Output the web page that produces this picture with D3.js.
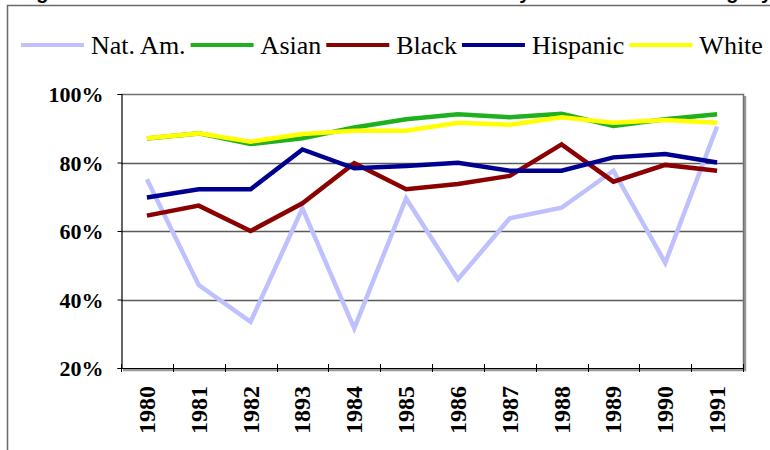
<!DOCTYPE html>
<html>
<head>
<meta charset="utf-8">
<script src="https://cdn.jsdelivr.net/npm/d3@7"></script>
<style>
  body { margin: 0; background: #fff; }
  svg { display: block; }
</style>
</head>
<body>
<svg id="chart"></svg>
<script>
// Chart data
var years = ["1980", "1981", "1982", "1893", "1984", "1985", "1986", "1987", "1988", "1989", "1990", "1991"];
var seriesNames = ["Nat. Am.", "Asian", "Black", "Hispanic", "White"];
var natAm    = [75.1, 44.2, 33.5, 66.6, 31.6, 69.5, 45.9, 63.7, 66.8, 77.6, 50.7, 90.5];
var asian    = [87.0, 88.5, 85.4, 87.1, 90.2, 92.6, 94.1, 93.2, 94.2, 90.7, 92.6, 94.1];
var black    = [64.5, 67.4, 60.0, 68.1, 79.8, 72.2, 73.7, 76.1, 85.3, 74.4, 79.3, 77.6];
var hispanic = [69.8, 72.2, 72.2, 83.8, 78.3, 79.0, 79.9, 77.6, 77.6, 81.5, 82.5, 80.0];
var white    = [87.1, 88.5, 86.1, 88.3, 89.3, 89.3, 91.6, 91.0, 93.2, 91.6, 92.4, 91.6];
var yTicks = [20, 40, 60, 80, 100];
var colors = ["#c0c0ff", "#1fb01f", "#8b0000", "#000090", "#ffff00"];

var series = [natAm, asian, black, hispanic, white].map(function(vals, i) {
  return {name: seriesNames[i], color: colors[i], values: vals};
});

var serif = "'Liberation Serif', 'Times New Roman', serif";

// SVG size params
var width = 770, height = 450;
var plot = {left: 121, top: 94, right: 743, bottom: 368};

var svg = d3.select("#chart")
    .attr("width", width)
    .attr("height", height);

// Title (mostly cut off above the frame, as in the original)
svg.append("text")
    .attr("x", 17)
    .attr("y", -1)
    .attr("textLength", 755)
    .attr("lengthAdjust", "spacing")
    .style("font-family", "'Liberation Sans', Arial, sans-serif")
    .style("font-weight", "bold")
    .style("font-size", "20px")
    .text("Figure 1: Graduation Rates of Student-Athletes by Racial/Ethnic Category");

// Outer frame
svg.append("path")
    .attr("d", "M7.5," + height + "V5.5H" + width)
    .attr("fill", "none")
    .attr("stroke", "#6a6a6a")
    .attr("stroke-width", 1.5);

// Scales
var x = d3.scaleBand()
    .domain(years)
    .range([plot.left, plot.right]);

var y = d3.scaleLinear()
    .domain([20, 100])
    .range([plot.bottom, plot.top]);

// Gridlines
svg.selectAll(".grid")
  .data(yTicks.filter(function(d) { return d > 20 && d < 100; }))
  .enter().append("line")
    .attr("class", "grid")
    .attr("x1", plot.left)
    .attr("x2", plot.right)
    .attr("y1", function(d) { return Math.round(y(d)) + 0.5; })
    .attr("y2", function(d) { return Math.round(y(d)) + 0.5; })
    .attr("stroke", "#5a5a5a")
    .attr("stroke-width", 1.3);

// Plot area border with shadow
svg.append("path")
    .attr("d", "M" + (plot.right + 2) + "," + (plot.top + 2) + "V" + (plot.bottom + 2) + "H" + (plot.left + 2))
    .attr("fill", "none")
    .attr("stroke", "#9a9a9a")
    .attr("stroke-width", 2.5);
svg.append("path")
    .attr("d", "M" + plot.left + "," + (plot.top + 0.5) + "H" + (plot.right + 0.5) + "V" + plot.bottom)
    .attr("fill", "none")
    .attr("stroke", "#707070")
    .attr("stroke-width", 1.5);

// Lines
var line = d3.line()
    .x(function(d, i) { return x(years[i]) + x.bandwidth() / 2; })
    .y(function(d) { return y(d); });

svg.selectAll(".series")
  .data(series)
  .enter().append("path")
    .attr("class", "series")
    .attr("d", function(d) { return line(d.values); })
    .attr("fill", "none")
    .attr("stroke", function(d) { return d.color; })
    .attr("stroke-width", 4.5)
    .attr("stroke-linejoin", "miter");

// Y axis
var yAxis = d3.axisLeft(y)
    .tickValues(yTicks)
    .tickSize(4)
    .tickPadding(14)
    .tickFormat(function(d) { return d + "%"; });

var gy = svg.append("g")
    .attr("transform", "translate(" + (plot.left + 0.5) + ",0)")
    .call(yAxis);
gy.select(".domain").attr("stroke", "#000").attr("stroke-width", 1.2);
gy.selectAll(".tick line").attr("stroke", "#000");
gy.selectAll(".tick text")
    .attr("fill", "#000")
    .attr("dy", "0.35em")
    .style("font-family", serif)
    .style("font-weight", "bold")
    .style("font-size", "22px");

// X axis: ticks on category boundaries
var gx = svg.append("g");
gx.append("line")
    .attr("x1", plot.left)
    .attr("x2", plot.right)
    .attr("y1", plot.bottom + 0.5)
    .attr("y2", plot.bottom + 0.5)
    .attr("stroke", "#000")
    .attr("stroke-width", 1.2);
gx.selectAll(".xtick")
  .data(years.concat(["end"]))
  .enter().append("line")
    .attr("class", "xtick")
    .attr("x1", function(d, i) { return Math.round(plot.left + i * x.step()) + 0.5; })
    .attr("x2", function(d, i) { return Math.round(plot.left + i * x.step()) + 0.5; })
    .attr("y1", plot.bottom - 4)
    .attr("y2", plot.bottom + 4)
    .attr("stroke", "#000");
gx.selectAll(".xlabel")
  .data(years)
  .enter().append("text")
    .attr("class", "xlabel")
    .attr("transform", function(d) {
      return "translate(" + (x(d) + x.bandwidth() / 2 + 8) + "," + (plot.bottom + 18) + ") rotate(-90)";
    })
    .attr("text-anchor", "end")
    .style("font-family", serif)
    .style("font-weight", "bold")
    .style("font-size", "24px")
    .text(function(d) { return d; });

// Legend
var legend = svg.append("g");
var lx = 21;
series.forEach(function(s) {
  legend.append("line")
      .attr("x1", lx)
      .attr("x2", lx + 63)
      .attr("y1", 45)
      .attr("y2", 45)
      .attr("stroke", s.color)
      .attr("stroke-width", 4);
  var t = legend.append("text")
      .attr("x", lx + 70)
      .attr("y", 54)
      .style("font-family", serif)
      .style("font-size", "26px")
      .text(s.name);
  lx += 70 + t.node().getComputedTextLength() + 5;
});
</script>
</body>
</html>
